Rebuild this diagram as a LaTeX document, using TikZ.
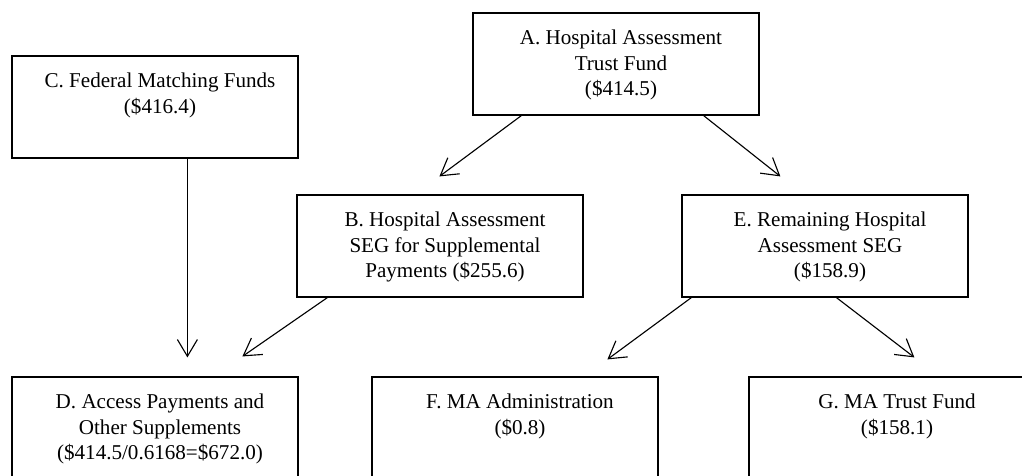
\documentclass[tikz,border=0pt]{standalone}
\usepackage{fontspec}
\setmainfont{Liberation Serif}
\usetikzlibrary{arrows.meta}
\tikzstyle{block} = [draw, rectangle, line width=0.8pt, inner sep=0pt,
    minimum width=7.15cm, minimum height=2.55cm]
\tikzstyle{flow} = [->, line width=0.8pt]
% text sits at the top of each box
\newcommand{\boxtext}[1]{\parbox[c][2.55cm][t]{7.15cm}{\centering
    \leftskip=0.25cm plus 1fil
    \fontsize{15}{18.4}\selectfont\rule{0pt}{0.78cm}#1}}

\begin{document}
\begin{tikzpicture}[x=0.025cm, y=0.025cm, >={Straight Barb[length=0.42cm,width=0.5cm]}]
    \useasboundingbox (0,0) rectangle (1022,-475);
    \clip (0,0) rectangle (1022,-475);
    \node [block] at (616,-64) (trust) {\boxtext{A. Hospital Assessment\\ Trust Fund\\ (\$414.5)}};
    \node [block] at (155,-107) (federal) {\boxtext{C. Federal Matching Funds\\ (\$416.4)}};
    \node [block] at (440,-246) (suppl) {\boxtext{B. Hospital Assessment\\ SEG for Supplemental\\ Payments (\$255.6)}};
    \node [block] at (825,-246) (remain) {\boxtext{E. Remaining Hospital\\ Assessment SEG\\ (\$158.9)}};
    \node [block] at (155,-428) (access) {\boxtext{D. Access Payments and\\ Other Supplements\\ (\$414.5/0.6168=\$672.0)}};
    \node [block] at (515,-428) (admin) {\boxtext{F. MA Administration\\ (\$0.8)}};
    \node [block] at (892,-428) (matrust) {\boxtext{G. MA Trust Fund\\ (\$158.1)}};
    \draw [flow] ([shift={(49,0)}]trust.south west) -- ([shift={(143,18)}]suppl.north west);
    \draw [flow] ([shift={(-56,0)}]trust.south east) -- ([shift={(99,18)}]remain.north west);
    \draw [flow] ([shift={(176,0)}]federal.south west) -- ([shift={(176,19)}]access.north west);
    \draw [flow] ([shift={(31,0)}]suppl.south west) -- ([shift={(231,20)}]access.north west);
    \draw [flow] ([shift={(10,0)}]remain.south west) -- ([shift={(236,17)}]admin.north west);
    \draw [flow] ([shift={(155,0)}]remain.south west) -- ([shift={(166,19)}]matrust.north west);
\end{tikzpicture}
\end{document}
